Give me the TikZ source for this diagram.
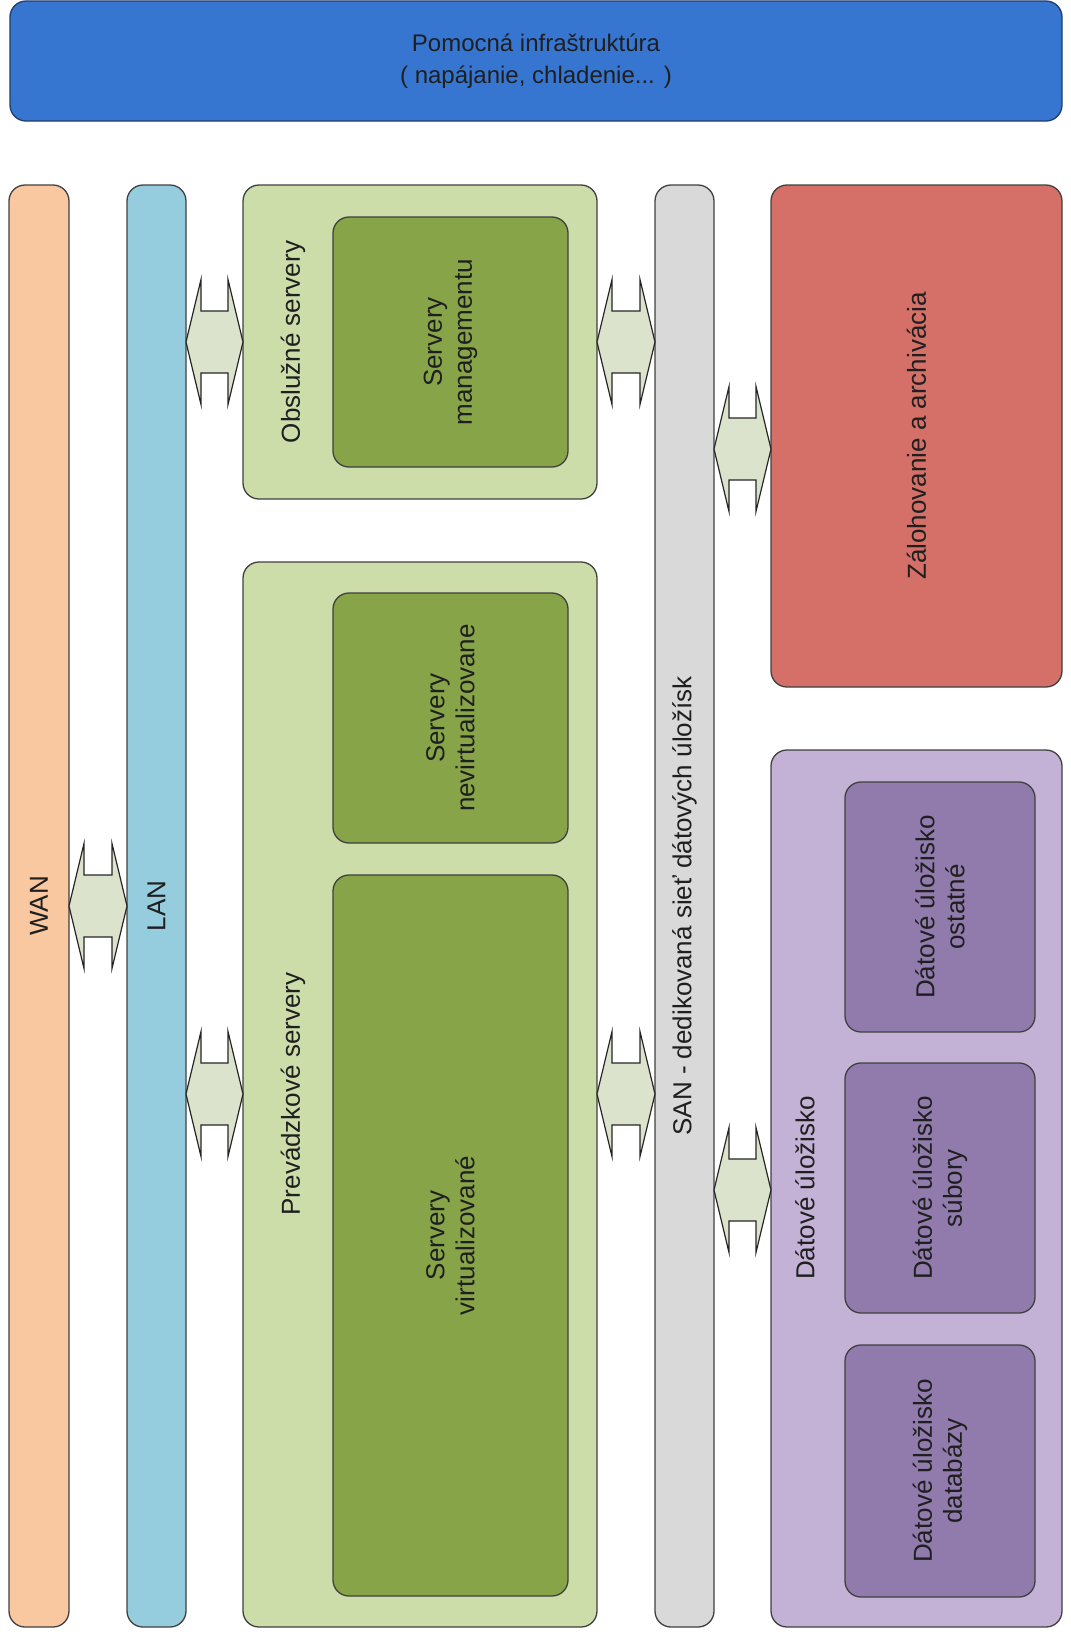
\documentclass[tikz,border=0pt]{standalone}
\usepackage{fontspec}
\setmainfont{Liberation Sans}
\usetikzlibrary{calc}
\definecolor{topblue}{RGB}{55,118,208}
\definecolor{topline}{RGB}{30,60,110}
\definecolor{wanc}{RGB}{250,200,160}
\definecolor{lanc}{RGB}{150,205,222}
\definecolor{lgreen}{RGB}{205,221,170}
\definecolor{dgreen}{RGB}{135,165,72}
\definecolor{sanc}{RGB}{217,217,217}
\definecolor{redc}{RGB}{212,112,104}
\definecolor{lpurple}{RGB}{195,178,213}
\definecolor{dpurple}{RGB}{145,122,172}
\definecolor{arrowc}{RGB}{220,227,205}
\newcommand\boxat[6]{%
  \node[box,#6,minimum width=#4pt-#2pt,minimum height=#5pt-#3pt] (#1) at (#2,#3) {};}
\newcommand\dblarr[3]{%
  \draw[conn] (#1.east |- #3) coordinate (a#1#2) -- ++(15,-62.5) -- ++(0,31.5)
    -- ($(#2.west |- #3)+(-15,-31)$) -- ++(0,-31.5) -- (#2.west |- #3)
    -- ++(-15,62.5) -- ++(0,-31.5) -- ($(a#1#2)+(15,31)$) -- ++(0,31.5) -- cycle;}
\begin{document}
\begin{tikzpicture}[x=1pt,y=-1pt,
  box/.style={draw=black!75,line width=1.3pt,rounded corners=16pt,anchor=north west,inner sep=0pt,outer sep=0pt},
  lbl/.style={rotate=90,align=center,font=\fontsize{26}{30}\selectfont,text=black!88},
  conn/.style={draw=black!85,line width=1.2pt,fill=arrowc,line join=miter}]
\useasboundingbox (0,0) rectangle (1071,1634);
% boxes
\boxat{top}{10}{1}{1062}{121}{fill=topblue,draw=topline}
\boxat{wan}{9}{185}{69}{1627}{fill=wanc}
\boxat{lan}{127}{185}{186}{1627}{fill=lanc}
\boxat{obsl}{243}{185}{597}{499}{fill=lgreen}
\boxat{mgmt}{333}{217}{568}{467}{fill=dgreen}
\boxat{prev}{243}{562}{597}{1627}{fill=lgreen}
\boxat{nevirt}{333}{593}{568}{843}{fill=dgreen}
\boxat{virt}{333}{875}{568}{1596}{fill=dgreen}
\boxat{san}{655}{185}{714}{1627}{fill=sanc}
\boxat{zal}{771}{185}{1062}{687}{fill=redc}
\boxat{dat}{771}{750}{1062}{1627}{fill=lpurple}
\boxat{ost}{845}{782}{1035}{1032}{fill=dpurple}
\boxat{sub}{845}{1063}{1035}{1313}{fill=dpurple}
\boxat{dbz}{845}{1345}{1035}{1597}{fill=dpurple}
% row levels for connectors
\coordinate (yA) at (0,342);
\coordinate (yB) at (0,449);
\coordinate (yC) at (0,906);
\coordinate (yD) at (0,1094);
\coordinate (yE) at (0,1190);
% connectors
\dblarr{wan}{lan}{yC}
\dblarr{lan}{obsl}{yA}
\dblarr{obsl}{san}{yA}
\dblarr{san}{zal}{yB}
\dblarr{lan}{prev}{yD}
\dblarr{prev}{san}{yD}
\dblarr{san}{dat}{yE}
% labels
\node[align=center,font=\fontsize{24}{32}\selectfont,text=black!88] (topT) at (top.center) {Pomocná infraštruktúra\\( napájanie, chladenie... )};
\node[lbl] (wanT) at (wan.center) {WAN};
\node[lbl] (lanT) at (lan.center) {LAN};
\node[lbl] (obslT) at (293,342) {Obslužné servery};
\node[lbl] (mgmtT) at (mgmt.center) {Servery\\managementu};
\node[lbl] (prevT) at (293,1094) {Prevádzkové servery};
\node[lbl] (nevirtT) at (nevirt.center) {Servery\\nevirtualizovane};
\node[lbl] (virtT) at (virt.center) {Servery\\virtualizované};
\node[lbl] (sanT) at (san.center) {SAN - dedikovaná sieť dátových úložísk};
\node[lbl] (zalT) at (zal.center) {Zálohovanie a archivácia};
\node[lbl] (datT) at (805,1188) {Dátové úložisko};
\node[lbl] (ostT) at (ost.center) {Dátové úložisko\\ostatné};
\node[lbl] (subT) at (sub.center) {Dátové úložisko\\súbory};
\node[lbl] (dbzT) at (dbz.center) {Dátové úložisko\\databázy};
\end{tikzpicture}
\end{document}
